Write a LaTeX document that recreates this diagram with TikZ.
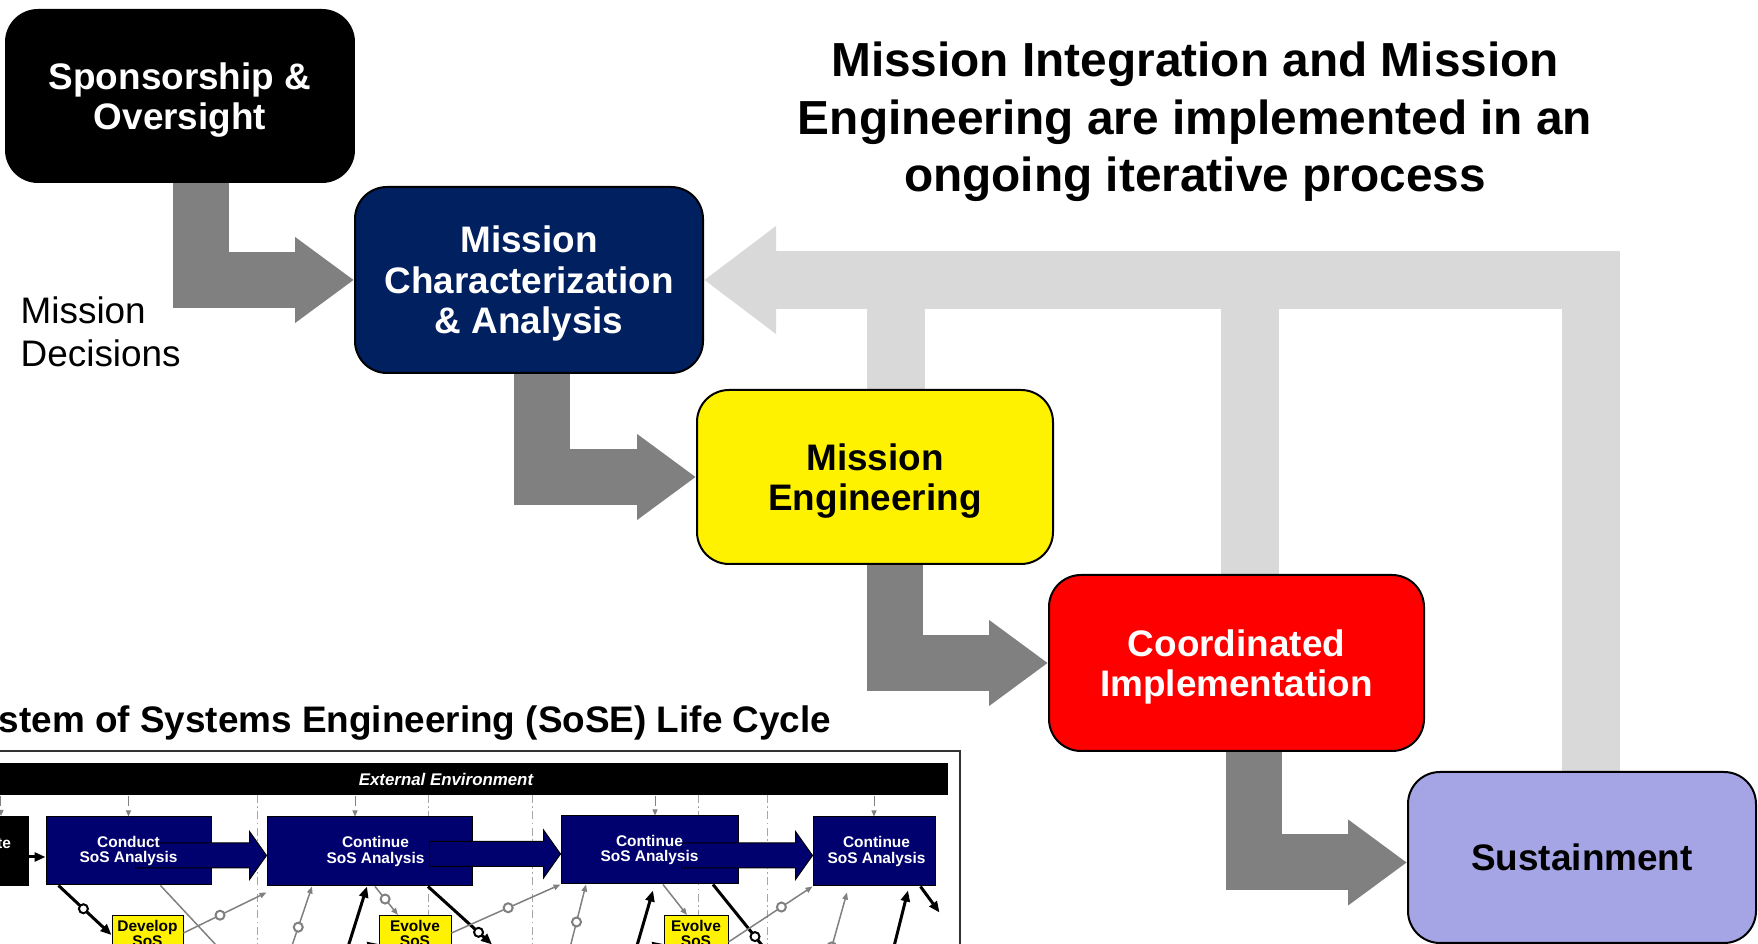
\documentclass[tikz,border=0pt]{standalone}
\usepackage{fontspec}
\setmainfont{Liberation Sans}
\usetikzlibrary{arrows.meta}
\definecolor{mcblue}{HTML}{002060}
\definecolor{sustlav}{HTML}{A5A5E6}
\definecolor{flowgray}{HTML}{808080}
\definecolor{backgray}{HTML}{D9D9D9}
\definecolor{sosnavy}{HTML}{00006E}
\pgfdeclarelayer{background}
\pgfsetlayers{background,main}

\begin{document}
\begin{tikzpicture}[x=0.1mm, y=-0.1mm,
  stagebox/.style={draw=black, line width=0.2mm, rounded corners=3.2mm, align=center, text depth=0pt, font=\fontsize{10.5}{11.5}\selectfont\bfseries},
  fwdarrow/.style={draw=flowgray, line width=5.6mm, line join=miter, -{Triangle[length=5.9mm, width=8.2mm]}},
  backarrow/.style={draw=backgray, line width=5.8mm, line join=miter, -{Triangle[length=7.2mm, width=10.3mm]}},
  backstem/.style={draw=backgray, line width=5.8mm},
  sosbox/.style={draw=black, line width=0.1mm, fill=sosnavy},
  soslbl/.style={text=white, align=center, inner sep=0pt, font=\fontsize{4.4}{4.3}\selectfont\bfseries},
  sosblk/.style={draw=black, line width=0.1mm, fill=sosnavy},
  sosnote/.style={draw=black, line width=0.1mm, fill=yellow, anchor=north, align=center, inner xsep=0.4mm, inner ysep=0.5mm, font=\fontsize{4.4}{4.3}\selectfont\bfseries},
  phaseline/.style={draw=black!35, line width=0.08mm, dash pattern=on 0.8mm off 0.35mm on 0.15mm off 0.35mm},
  ctx/.style={draw=flowgray, line width=0.1mm, densely dashed, ->, >={Triangle[length=0.6mm, width=0.5mm]}},
  thk/.style={draw=black, line width=0.3mm, >={Triangle[length=1.1mm, width=0.9mm]}},
  thn/.style={color=flowgray, line width=0.15mm, >={Triangle[length=0.7mm, width=0.55mm]}},
  cyc/.style={circle, draw, fill=white, line width=0.2mm, inner sep=0pt, minimum size=0.9mm}]
  \useasboundingbox (0,0) rectangle (1758,944);
  \clip (0,0) rectangle (1758,944);
  \node[stagebox, fill=black, text=white, minimum width=34.8mm, minimum height=17.2mm] (spons) at (180,96) {Sponsorship \&\\Oversight};
  \node[stagebox, fill=mcblue, text=white, minimum width=34.8mm, minimum height=18.6mm] (mca) at (529,280) {Mission\\Characterization\\\& Analysis};
  \node[stagebox, fill=yellow, minimum width=35.6mm, minimum height=17.4mm] (me) at (875,477) {Mission\\Engineering};
  \node[stagebox, fill=red, text=white, minimum width=37.5mm, minimum height=17.6mm] (ci) at (1236.5,663) {Coordinated\\Implementation};
  \node[stagebox, fill=sustlav, minimum width=34.8mm, minimum height=17.1mm] (sust) at (1582,857.5) {Sustainment};
  \node[font=\fontsize{13.6}{16.4}\selectfont\bfseries, align=center] (headline) at (1195,122) {Mission Integration and Mission\\Engineering are implemented in an\\ongoing iterative process};
  \node[font=\fontsize{10.5}{12.2}\selectfont, align=left, anchor=north west, inner sep=0pt] (decisions) at (20,296) {Mission\\Decisions};
  \begin{pgfonlayer}{background}
    \draw[backarrow] ([xshift=0.85mm]sust.north) |- (mca.east);
    \draw[backstem] ([xshift=2.05mm]me.north) -- ([xshift=2.05mm]me.north |- mca.east);
    \draw[backstem] ([xshift=1.3mm]ci.north) -- ([xshift=1.3mm]ci.north |- mca.east);
    \draw[fwdarrow] ([xshift=2.1mm]spons.south) |- (mca.west);
    \draw[fwdarrow] ([xshift=1.25mm]mca.south) |- (me.west);
    \draw[fwdarrow] ([xshift=1.95mm]me.south) |- (ci.west);
    \draw[fwdarrow] ([xshift=1.75mm]ci.south) |- ([yshift=-0.5mm]sust.west);
  \end{pgfonlayer}
  % life cycle chart
  \node[font=\fontsize{10.5}{12}\selectfont\bfseries, anchor=base east, inner sep=0pt] (sosetitle) at (832,733) {System of Systems Engineering (SoSE) Life Cycle};
  \draw[line width=0.2mm, black!80] (-10,751) rectangle (960,990);
  \node[fill=black, text=white, minimum width=100.4mm, minimum height=3.2mm, inner sep=0pt, font=\fontsize{4.8}{5}\selectfont\bfseries\itshape] (env) at (446,779) {External Environment};
  \foreach \x in {257,428,532,698,767}
    \draw[phaseline] (\x,795) -- (\x,944);
  \node[sosbox, fill=black, minimum width=7.4mm, minimum height=6.9mm] (init) at (-8,851) {};
  \node[sosbox, minimum width=16.5mm, minimum height=6.8mm] (conduct) at (128.5,851) {};
  \node[sosbox, minimum width=20.5mm, minimum height=6.9mm] (cont1) at (369.5,851.5) {};
  \node[sosbox, minimum width=17.7mm, minimum height=6.8mm] (cont2) at (649.5,850) {};
  \node[sosbox, minimum width=12.2mm, minimum height=6.9mm] (cont3) at (874,851.5) {};
  \foreach \t in {cont1,cont2,cont3}
    \draw[sosblk] ([yshift=-0.4mm]\t.west) -- ++(-17,-24) -- ++(0,11.5) -- ++(-114,0) -- ++(0,25) -- ++(114,0) -- ++(0,11.5) -- cycle;
  \node[soslbl] (initlbl) at ([xshift=-0.6mm]init) {Initiate\\\phantom{SoS}};
  \node[soslbl] (conductlbl) at (conduct) {Conduct\\SoS Analysis};
  \node[soslbl] (cont1lbl) at ([xshift=0.6mm]cont1) {Continue\\SoS Analysis};
  \node[soslbl] (cont2lbl) at (cont2) {Continue\\SoS Analysis};
  \node[soslbl] (cont3lbl) at ([xshift=0.25mm]cont3) {Continue\\SoS Analysis};
  \node[sosnote, minimum width=7.1mm] (develop) at (147.5,915) {Develop\\SoS};
  \node[sosnote, minimum width=7.2mm] (evolve1) at (415,915) {Evolve\\SoS};
  \node[sosnote, minimum width=6.4mm] (evolve2) at (696,915) {Evolve\\SoS};
  \foreach \b/\dx in {init/0.9, conduct/0, cont1/-1.45, cont2/0.55, cont3/0}
    \draw[ctx] ([xshift=\dx mm]\b.north |- env.south) -- ([xshift=\dx mm]\b.north);
  \draw[thk, ->] ([yshift=-0.6mm]init.east) -- ([yshift=-0.6mm]conduct.west);
  \draw[thk, ->] ([xshift=1.3mm]conduct.south west) -- node[cyc, pos=.47] {} ([yshift=-2mm]develop.north west);
  \draw[thn] ([xshift=3.2mm]conduct.south) -- ++(56,60);
  \draw[thn, ->] ([yshift=-1.8mm]develop.north east) -- node[cyc, pos=.44] {} ([yshift=-0.6mm]cont1.south west);
  \draw[thn, <-] ([xshift=-5.75mm]cont1.south) -- node[cyc, pos=.55] {} ++(-25,74);
  \draw[thk, <-] ([xshift=-0.25mm]cont1.south) -- ++(-22,70);
  \draw[thn, ->] ([xshift=0.55mm]cont1.south) -- node[cyc, pos=.44] {} ([xshift=-1.7mm]evolve1.north);
  \draw[thk, ->] ([xshift=5.85mm]cont1.south) -- node[cyc, pos=.79] {} ++(64,58);
  \draw[thn, ->] ([yshift=-1.8mm]evolve1.north east) -- node[cyc, pos=.52] {} (cont2.south west);
  \draw[thn, <-] ([xshift=-6.35mm]cont2.south) -- node[cyc, pos=.5] {} ++(-19,75);
  \draw[thk, <-] ([xshift=0.35mm, yshift=-0.6mm]cont2.south) -- ++(-18,62);
  \draw[thn, ->] ([xshift=1.35mm]cont2.south) -- ([xshift=-0.9mm]evolve2.north);
  \draw[thk] ([xshift=6.35mm]cont2.south) -- node[cyc, pos=.84] {} ++(50,62);
  \draw[thn, ->] ([yshift=-2.7mm]evolve2.north east) -- node[cyc, pos=.63] {} (cont3.south west);
  \draw[thn, <-] ([xshift=-2.7mm, yshift=-0.6mm]cont3.south) -- node[cyc, pos=.8] {} ++(-19,68);
  \draw[thk, <-] ([xshift=3.4mm, yshift=-0.4mm]cont3.south) -- ++(-16,64);
  \draw[thk, ->] ([xshift=-1.5mm]cont3.south east) -- ++(19,26);
  \foreach \e in {evolve1,evolve2}
    \draw[thk, <-] ([yshift=-2.9mm]\e.north west) -- ++(-25,6);
\end{tikzpicture}
\end{document}
